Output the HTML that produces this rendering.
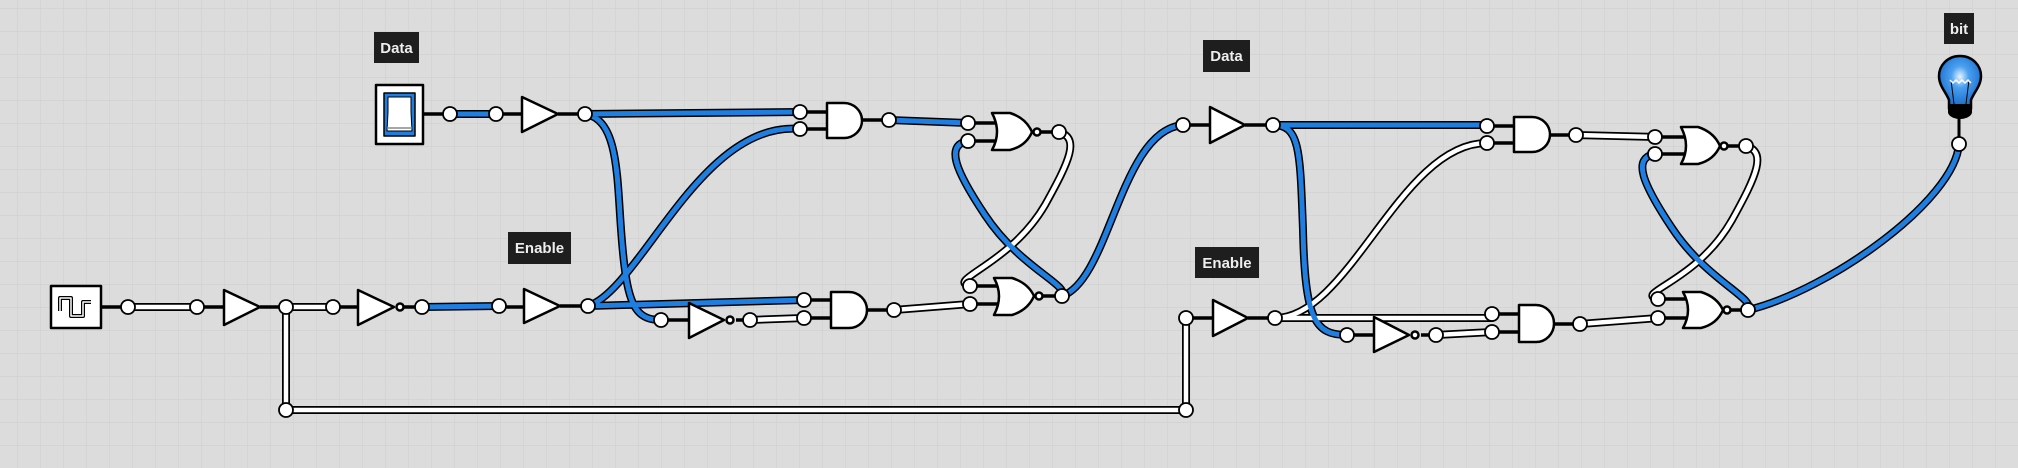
<!DOCTYPE html>
<html><head><meta charset="utf-8"><style>
html,body{margin:0;padding:0;background:#dcdcdc;}
svg{display:block}
text{font-family:"Liberation Sans",sans-serif;font-weight:bold;}
</style></head><body>
<svg width="2018" height="468" viewBox="0 0 2018 468" xmlns="http://www.w3.org/2000/svg">
<defs>
<pattern id="g" x="17" y="8" width="23" height="23" patternUnits="userSpaceOnUse">
<path d="M0 0H23M0 0V23" stroke="#d0d0d0" stroke-width="1.2" fill="none"/>
</pattern>
<radialGradient id="bl" cx="0.5" cy="0.4" r="0.6">
<stop offset="0" stop-color="#e8f4ff"/><stop offset="0.35" stop-color="#4aa0f0"/><stop offset="1" stop-color="#1767c8"/>
</radialGradient>
</defs>
<rect width="2018" height="468" fill="#dcdcdc"/>
<rect width="2018" height="468" fill="url(#g)"/>

<!-- black stubs -->
<g stroke="#000" stroke-width="3.5" fill="none">
<path d="M101 307H128M197 307H224M260 307H286M333 307H358M404 307H422M499 307H524M560 306H588"/>
<path d="M423 114H450M496 114H522M558 114H585"/>
<path d="M800 112H827M800 129H827M862 120H889M968 123H998M968 141H998M1032 132H1034M1040 132H1059"/>
<path d="M804 300H831M804 318H831M867 310H894M970 286H998M970 304H998M1034 296H1036M1042 296H1062"/>
<path d="M661 320H689M736 320H750"/>
<path d="M1183 125H1210M1245 125H1273M1186 318H1213M1248 318H1275"/>
<path d="M1487 126H1514M1487 143H1514M1550 135H1576M1655 137H1685M1655 154H1685M1720 146H1721M1727 146H1746"/>
<path d="M1492 314H1519M1492 332H1519M1553 324H1580M1658 299H1688M1658 318H1688M1723 310H1724M1730 310H1748"/>
<path d="M1347 335H1374M1421 335H1436"/>
<path d="M1959 118V144" stroke-width="3"/>
</g>

<!-- wires: outline -->
<g stroke="#000" stroke-width="8" fill="none" stroke-linecap="round">
<path d="M128 307H197M286 307H333M286 307V410H1186V318M750 320L804 318M894 310L970 304"/>
<path d="M1059 132C1080 138 1070 160 1045 205C1010 265 945 280 970 286"/>
<path d="M1275 318H1492M1275 318C1350 318 1400 143 1487 143M1436 335L1492 332M1576 135L1655 137M1580 324L1658 318M1746 146C1767 152 1757 175 1732 220C1697 282 1633 293 1658 299"/>
<path d="M450 114H496M585 114L800 112M585 114C625 120 615 200 625 270C630 310 640 320 661 320M588 306L804 300M588 306C640 290 700 120 800 129M422 307L499 306M889 120L968 123M968 141C945 145 955 170 985 215C1020 268 1070 285 1062 296M1062 296C1110 280 1120 130 1183 125M1273 125H1487M1273 125C1300 125 1300 150 1303 230C1305 320 1315 335 1347 335M1655 154C1632 158 1642 183 1672 228C1707 281 1756 298 1748 310M1748 310C1830 290 1955 200 1959 144"/>
</g>
<g stroke="#fff" stroke-width="4.5" fill="none" stroke-linecap="round">
<path d="M128 307H197M286 307H333M286 307V410H1186V318M750 320L804 318M894 310L970 304"/>
<path d="M1059 132C1080 138 1070 160 1045 205C1010 265 945 280 970 286"/>
<path d="M1275 318H1492M1275 318C1350 318 1400 143 1487 143M1436 335L1492 332M1576 135L1655 137M1580 324L1658 318M1746 146C1767 152 1757 175 1732 220C1697 282 1633 293 1658 299"/>
</g>
<g stroke="#1f7fe0" stroke-width="5" fill="none" stroke-linecap="round">
<path d="M450 114H496M585 114L800 112M585 114C625 120 615 200 625 270C630 310 640 320 661 320M588 306L804 300M588 306C640 290 700 120 800 129M422 307L499 306M889 120L968 123M968 141C945 145 955 170 985 215C1020 268 1070 285 1062 296M1062 296C1110 280 1120 130 1183 125M1273 125H1487M1273 125C1300 125 1300 150 1303 230C1305 320 1315 335 1347 335M1655 154C1632 158 1642 183 1672 228C1707 281 1756 298 1748 310M1748 310C1830 290 1955 200 1959 144"/>
</g>

<!-- components -->
<g stroke="#000" stroke-width="2.5" fill="#fff" stroke-linejoin="round">
<rect x="51" y="286" width="50" height="42"/>
<path d="M60 311V298H71V316H83V302H91" fill="none" stroke-width="4"/>
<path d="M60 311V298H71V316H83V302H91" fill="none" stroke="#fff" stroke-width="1.5"/>
<rect x="376" y="85" width="47" height="59"/>
<rect x="384" y="93" width="31" height="43" fill="#1f7fe0" stroke-width="1.5"/>
<path d="M388 97H411V112L412 131H387L388 112Z" stroke-width="1"/>
<path d="M387 128H412" stroke="#888" stroke-width="1.5"/>
<polygon points="224,290 224,325 260,307"/>
<polygon points="358,290 358,325 394,307"/>
<circle cx="400" cy="307" r="3.5"/>
<polygon points="524,289 524,323 560,306"/>
<polygon points="522,97 522,132 558,114"/>
<polygon points="689,303 689,338 724,320"/>
<circle cx="730" cy="320" r="3.5"/>
<polygon points="1210,107 1210,143 1245,125"/>
<polygon points="1213,300 1213,336 1248,318"/>
<polygon points="1374,317 1374,352 1409,335"/>
<circle cx="1415" cy="335" r="3.5"/>
<path d="M827 103H844A18 17.5 0 0 1 844 138H827Z"/>
<path d="M831 292H849A18 18 0 0 1 849 328H831Z"/>
<path d="M1514 117H1532A18 17.5 0 0 1 1532 152H1514Z"/>
<path d="M1519 305H1536A18 18.5 0 0 1 1536 342H1519Z"/>
<path d="M992 113H1010Q1026 118 1032 132Q1026 146 1010 150H992Q1002 132 992 113Z"/>
<circle cx="1037" cy="132" r="3.5"/>
<path d="M994 278H1012Q1028 283 1034 296Q1028 310 1012 315H994Q1004 296 994 278Z"/>
<circle cx="1039" cy="296" r="3.5"/>
<path d="M1681 127H1698Q1714 132 1720 146Q1714 160 1698 164H1681Q1691 146 1681 127Z"/>
<circle cx="1724" cy="146" r="3.5"/>
<path d="M1683 292H1701Q1717 297 1723 310Q1717 324 1701 328H1683Q1693 310 1683 292Z"/>
<circle cx="1727" cy="310" r="3.5"/>
</g>

<!-- pins -->
<g stroke="#000" stroke-width="1.8" fill="#fff">
<circle cx="128" cy="307" r="7"/><circle cx="197" cy="307" r="7"/><circle cx="286" cy="307" r="7"/><circle cx="333" cy="307" r="7"/>
<circle cx="422" cy="307" r="7"/><circle cx="499" cy="306" r="7"/><circle cx="588" cy="306" r="7"/>
<circle cx="450" cy="114" r="7"/><circle cx="496" cy="114" r="7"/><circle cx="585" cy="114" r="7"/>
<circle cx="800" cy="112" r="7"/><circle cx="800" cy="129" r="7"/><circle cx="889" cy="120" r="7"/>
<circle cx="968" cy="123" r="7"/><circle cx="968" cy="141" r="7"/><circle cx="1059" cy="132" r="7"/>
<circle cx="804" cy="300" r="7"/><circle cx="804" cy="318" r="7"/><circle cx="894" cy="310" r="7"/>
<circle cx="970" cy="286" r="7"/><circle cx="970" cy="304" r="7"/><circle cx="1062" cy="296" r="7"/>
<circle cx="661" cy="320" r="7"/><circle cx="750" cy="320" r="7"/>
<circle cx="286" cy="410" r="7"/><circle cx="1186" cy="410" r="7"/>
<circle cx="1183" cy="125" r="7"/><circle cx="1273" cy="125" r="7"/><circle cx="1186" cy="318" r="7"/><circle cx="1275" cy="318" r="7"/>
<circle cx="1487" cy="126" r="7"/><circle cx="1487" cy="143" r="7"/><circle cx="1576" cy="135" r="7"/>
<circle cx="1655" cy="137" r="7"/><circle cx="1655" cy="154" r="7"/><circle cx="1746" cy="146" r="7"/>
<circle cx="1492" cy="314" r="7"/><circle cx="1492" cy="332" r="7"/><circle cx="1580" cy="324" r="7"/>
<circle cx="1658" cy="299" r="7"/><circle cx="1658" cy="318" r="7"/><circle cx="1748" cy="310" r="7"/>
<circle cx="1347" cy="335" r="7"/><circle cx="1436" cy="335" r="7"/>
<circle cx="1959" cy="144" r="7"/>
</g>

<!-- bulb -->
<path d="M1960 56C1947 56 1939 66 1939 76C1939 86 1946 92 1949 100V108H1971V100C1974 92 1981 86 1981 76C1981 66 1973 56 1960 56Z" fill="url(#bl)" stroke="#000" stroke-width="2.5"/>
<path d="M1948 104H1972V112C1972 116 1966 119 1960 119C1954 119 1948 116 1948 112Z" fill="#000"/>
<path d="M1951 80L1954 104M1969 80L1966 104" stroke="#000" stroke-width="1" fill="none"/>
<path d="M1950 80l3 3 3-3 3 3 3-3 3 3 3-3 3 3" stroke="#fff" stroke-width="1.5" fill="none"/>

<!-- labels -->
<g>
<rect x="374" y="32" width="45" height="31" fill="#1e1e1e"/>
<text x="396.5" y="53" font-size="15" fill="#eee" text-anchor="middle">Data</text>
<rect x="508" y="232" width="63" height="32" fill="#1e1e1e"/>
<text x="539.5" y="253" font-size="15" fill="#eee" text-anchor="middle">Enable</text>
<rect x="1203" y="40" width="47" height="32" fill="#1e1e1e"/>
<text x="1226.5" y="61" font-size="15" fill="#eee" text-anchor="middle">Data</text>
<rect x="1195" y="247" width="64" height="31" fill="#1e1e1e"/>
<text x="1227" y="268" font-size="15" fill="#eee" text-anchor="middle">Enable</text>
<rect x="1944" y="13" width="30" height="31" fill="#1e1e1e"/>
<text x="1959" y="34" font-size="15" fill="#eee" text-anchor="middle">bit</text>
</g>
</svg>
</body></html>
